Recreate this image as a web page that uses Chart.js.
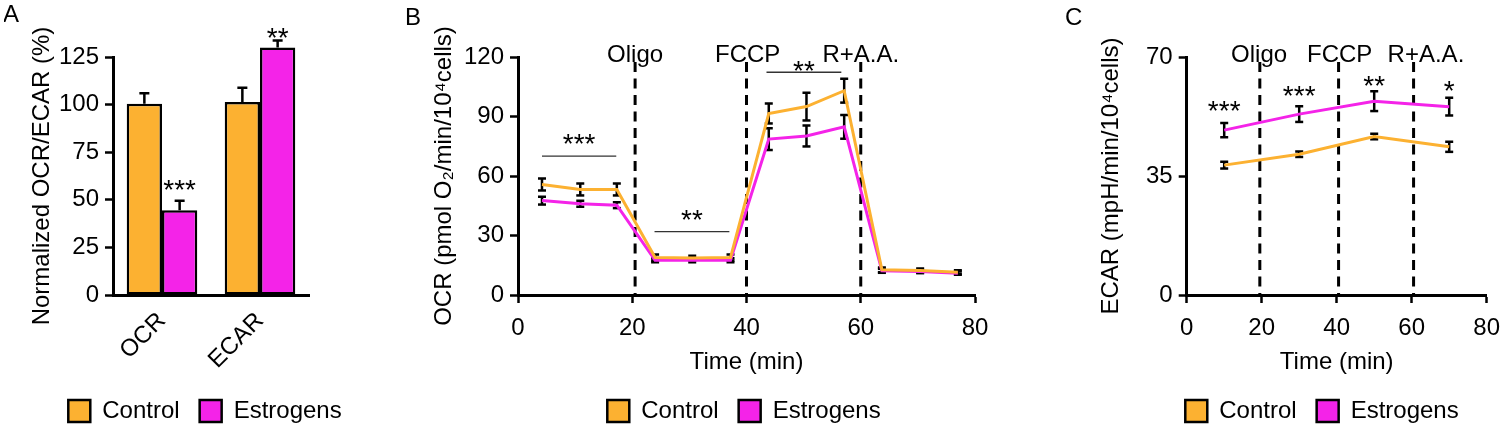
<!DOCTYPE html>
<html>
<head>
<meta charset="utf-8">
<script src="https://cdn.jsdelivr.net/npm/chart.js@4.4.1/dist/chart.umd.min.js"></script>
<style>
  html, body { margin: 0; padding: 0; background: #fff; overflow: hidden; width: 1500px; height: 428px; }
  canvas { position: absolute; top: 0; }
</style>
</head>
<body>
<canvas id="panelA" width="402" height="433" style="left:4px"></canvas>
<canvas id="panelB" width="688" height="433" style="left:400px"></canvas>
<canvas id="panelC" width="544" height="433" style="left:1050px"></canvas>
<script>
// values
const seriesNames = ['Control', 'Estrogens'];
const seriesColors = ['#FCB131', '#F423E8'];

// panel A
const barCategories = ['OCR', 'ECAR'];
const barControl = [100.5, 101.3];
const barControlErr = [5.5, 7.5];
const barEstrogens = [44.5, 130];
const barEstrogensErr = [5, 3.7];
const barStars = ['***', '**'];
const barStarLevel = [59, 139];

// panel B
const ocrTime = [4.2, 10.9, 17.3, 24, 30.5, 37.2, 43.9, 50.5, 57.1, 63.7, 70.4, 77];
const ocrControl = [55.7, 53.2, 53.2, 18.9, 18.6, 18.9, 91.5, 95, 103, 12.7, 12.3, 11.5];
const ocrControlErr = [3, 3, 3, 1.5, 1.2, 1.5, 5, 7, 6, 1.2, 1, 1];
const ocrEstrogens = [47.6, 46, 45.3, 17.5, 17.5, 17.5, 78.6, 80.2, 84.8, 12.2, 11.8, 11];
const ocrEstrogensErr = [2, 1.5, 1.5, 1, 1, 1, 5.5, 5.3, 6, 1, 0.8, 0.8];
const ocrInjections = [20.5, 40, 60];
const ocrLabelAt = [20.5, 40.2, 60];
const ocrSigFrom = [4.2, 23.9, 43.5];
const ocrSigTo = [17.2, 37, 56.6];
const ocrSigLevel = [70, 32, 112.3];
const ocrSigStars = ['***', '**', '**'];
const ocrSigStarLevel = [80, 42, 117];

// panel C
const ecarTime = [10, 30, 50, 70];
const ecarControl = [38.2, 41.4, 46.6, 43.6];
const ecarControlErr = [1, 0.8, 0.8, 1.5];
const ecarEstrogens = [48.5, 53.2, 57, 55.4];
const ecarEstrogensErr = [2.1, 2.3, 2.9, 2.6];
const ecarInjections = [19.5, 40.5, 60.5];
const ecarLabelAt = [19.3, 40.8, 63.8];
const ecarStars = ['***', '***', '**', '*'];
const ecarStarLevel = [56.3, 60.7, 63.7, 62.2];

const injectionLabels = ['Oligo', 'FCCP', 'R+A.A.'];

const FONT = "'Liberation Sans', Arial, Helvetica, sans-serif";
const FS = 24;
Chart.defaults.font.family = FONT;
Chart.defaults.font.size = FS;
Chart.defaults.color = '#000';

function legendOptions() {
  return {
    position: 'bottom',
    labels: {
      boxWidth: 22, boxHeight: 22, padding: 20,
      font: { size: FS },
      generateLabels: chart => chart.data.datasets.map((ds, i) => ({
        text: ds.label, fillStyle: seriesColors[i], strokeStyle: '#000',
        lineWidth: 2.5, hidden: false, datasetIndex: i
      }))
    }
  };
}

function yAxis(max, step, title, width, titlePad) {
  return {
    min: 0, max: max,
    afterFit: s => { s.width = width; },
    ticks: { stepSize: step, padding: 6, font: { size: FS } },
    grid: { drawOnChartArea: false, tickLength: 8, tickColor: '#000', tickWidth: 2.5 },
    border: { color: '#000', width: 3 },
    title: { display: true, text: title, font: { size: FS }, padding: { top: titlePad, bottom: 0 } }
  };
}

// empty axis on the right, only reserves room so the legend stays centred on the canvas
function spacer(width) {
  return {
    position: 'right', display: true,
    afterFit: s => { s.width = width; },
    ticks: { display: false }, grid: { display: false }, border: { display: false }
  };
}

function drawStars(ctx, text, x, y) {
  const size = 28;
  ctx.save();
  ctx.font = size + 'px ' + FONT;
  ctx.fillStyle = '#000';
  ctx.textAlign = 'center';
  ctx.textBaseline = 'alphabetic';
  ctx.fillText(text, x, y + 0.6 * size);
  ctx.restore();
}

function drawLetter(ctx, text, x, y) {
  ctx.save();
  ctx.font = '24px ' + FONT;
  ctx.fillStyle = '#000';
  ctx.textBaseline = 'alphabetic';
  ctx.fillText(text, x, y);
  ctx.restore();
}

function errorBar(ctx, x, y0, y1, cap) {
  ctx.beginPath();
  ctx.moveTo(x, y0); ctx.lineTo(x, y1);
  ctx.moveTo(x - cap, y1); ctx.lineTo(x + cap, y1);
  ctx.stroke();
}

// Panel A: bar chart
const barPlugin = {
  id: 'barExtras',
  afterDatasetsDraw(chart) {
    const ctx = chart.ctx, y = chart.scales.y;
    const errs = [barControlErr, barEstrogensErr];
    const vals = [barControl, barEstrogens];
    ctx.save();
    ctx.strokeStyle = '#000';
    ctx.lineWidth = 2.5;
    [0, 1].forEach(d => {
      chart.getDatasetMeta(d).data.forEach((bar, j) => {
        errorBar(ctx, bar.x, y.getPixelForValue(vals[d][j]), y.getPixelForValue(vals[d][j] + errs[d][j]), 5);
      });
    });
    ctx.restore();
    chart.getDatasetMeta(1).data.forEach((bar, j) => {
      drawStars(ctx, barStars[j], bar.x, y.getPixelForValue(barStarLevel[j]));
    });
  },
  afterDraw(chart) { drawLetter(chart.ctx, 'A', -1, 22); }
};

new Chart(document.getElementById('panelA'), {
  type: 'bar',
  data: {
    labels: barCategories,
    datasets: [
      { label: seriesNames[0], data: barControl, backgroundColor: seriesColors[0] },
      { label: seriesNames[1], data: barEstrogens, backgroundColor: seriesColors[1] }
    ].map(ds => Object.assign(ds, {
      borderColor: '#000', borderWidth: 2.5, borderSkipped: false,
      barPercentage: 1, categoryPercentage: 0.72, clip: false
    }))
  },
  options: {
    responsive: false,
    animation: false,
    layout: { padding: { top: 57, right: 0, left: 0, bottom: 0 } },
    plugins: { legend: legendOptions(), tooltip: { enabled: false } },
    scales: {
      x: {
        afterFit: s => { s.height = 84; },
        ticks: { minRotation: 45, maxRotation: 45, padding: 4, font: { size: FS } },
        grid: { display: false },
        border: { color: '#000', width: 3 }
      },
      y: yAxis(125, 25, 'Normalized OCR/ECAR (%)', 109, 23.6),
      yR: spacer(97)
    }
  },
  plugins: [barPlugin]
});

// Panels B and C: time courses
function timeCoursePlugin(letter, letterX, injections, labelAt, errs, vals, times, extraDraw) {
  return {
    id: 'timeCourse',
    beforeDatasetsDraw(chart) {
      const ctx = chart.ctx, x = chart.scales.x, y = chart.scales.y, area = chart.chartArea;
      ctx.save();
      ctx.strokeStyle = '#000';
      ctx.lineWidth = 3;
      ctx.setLineDash([10, 6.5]);
      injections.forEach(t => {
        const px = x.getPixelForValue(t);
        ctx.beginPath(); ctx.moveTo(px, area.top + 5); ctx.lineTo(px, area.bottom); ctx.stroke();
      });
      ctx.setLineDash([]);
      ctx.lineWidth = 2.5;
      [0, 1].forEach(d => {
        times.forEach((t, j) => {
          const px = x.getPixelForValue(t);
          const lo = y.getPixelForValue(vals[d][j] - errs[d][j]);
          const hi = y.getPixelForValue(vals[d][j] + errs[d][j]);
          errorBar(ctx, px, lo, hi, 4);
          ctx.beginPath(); ctx.moveTo(px - 4, lo); ctx.lineTo(px + 4, lo); ctx.stroke();
        });
      });
      ctx.restore();
    },
    afterDatasetsDraw(chart) {
      const ctx = chart.ctx, x = chart.scales.x;
      ctx.save();
      ctx.font = FS + 'px ' + FONT;
      ctx.fillStyle = '#000';
      ctx.textAlign = 'center';
      labelAt.forEach((t, i) => ctx.fillText(injectionLabels[i], x.getPixelForValue(t), 55));
      ctx.restore();
      extraDraw(chart);
    },
    afterDraw(chart) { drawLetter(chart.ctx, letter, letterX, 25); }
  };
}

function timeCourseChart(id, times, control, estrogens, yMax, yStep, yTitle, yWidth, titlePad, rightWidth, plugin) {
  return new Chart(document.getElementById(id), {
    type: 'line',
    data: {
      datasets: [
        { label: seriesNames[0], data: times.map((t, i) => ({ x: t, y: control[i] })), borderColor: seriesColors[0] },
        { label: seriesNames[1], data: times.map((t, i) => ({ x: t, y: estrogens[i] })), borderColor: seriesColors[1] }
      ].map(ds => Object.assign(ds, { borderWidth: 3, pointRadius: 0, tension: 0, fill: false }))
    },
    options: {
      responsive: false,
      animation: false,
      layout: { padding: { top: 57, right: 0, left: 0, bottom: 0 } },
      plugins: { legend: legendOptions(), tooltip: { enabled: false } },
      scales: {
        x: {
          type: 'linear', min: 0, max: 80,
          afterFit: s => { s.height = 84; },
          ticks: { stepSize: 20, padding: 11, font: { size: FS } },
          grid: { drawOnChartArea: false, tickLength: 8, tickColor: '#000', tickWidth: 2.5 },
          border: { color: '#000', width: 3 },
          title: { display: true, text: 'Time (min)', font: { size: FS }, padding: { top: 0, bottom: 2 } }
        },
        y: yAxis(yMax, yStep, yTitle, yWidth, titlePad),
        yR: spacer(rightWidth)
      }
    },
    plugins: [plugin]
  });
}

const ocrPlugin = timeCoursePlugin('B', 5, ocrInjections, ocrLabelAt,
  [ocrControlErr, ocrEstrogensErr], [ocrControl, ocrEstrogens], ocrTime,
  chart => {
    const ctx = chart.ctx, x = chart.scales.x, y = chart.scales.y;
    ctx.save();
    ctx.strokeStyle = '#333';
    ctx.lineWidth = 1.3;
    ocrSigFrom.forEach((f, i) => {
      const py = y.getPixelForValue(ocrSigLevel[i]);
      ctx.beginPath(); ctx.moveTo(x.getPixelForValue(f), py); ctx.lineTo(x.getPixelForValue(ocrSigTo[i]), py); ctx.stroke();
      drawStars(ctx, ocrSigStars[i], x.getPixelForValue((f + ocrSigTo[i]) / 2), y.getPixelForValue(ocrSigStarLevel[i]));
    });
    ctx.restore();
  });

timeCourseChart('panelB', ocrTime, ocrControl, ocrEstrogens, 120, 30,
  'OCR (pmol O\u2082/min/10\u2074cells)', 118, 29.6, 113, ocrPlugin);

const ecarPlugin = timeCoursePlugin('C', 15, ecarInjections, ecarLabelAt,
  [ecarControlErr, ecarEstrogensErr], [ecarControl, ecarEstrogens], ecarTime,
  chart => {
    const x = chart.scales.x, y = chart.scales.y;
    ecarTime.forEach((t, i) => drawStars(chart.ctx, ecarStars[i], x.getPixelForValue(t), y.getPixelForValue(ecarStarLevel[i])));
  });

timeCourseChart('panelC', ecarTime, ecarControl, ecarEstrogens, 70, 35,
  'ECAR (mpH/min/10\u2074cells)', 136.7, 46.6, 107.3, ecarPlugin);
</script>
</body>
</html>
